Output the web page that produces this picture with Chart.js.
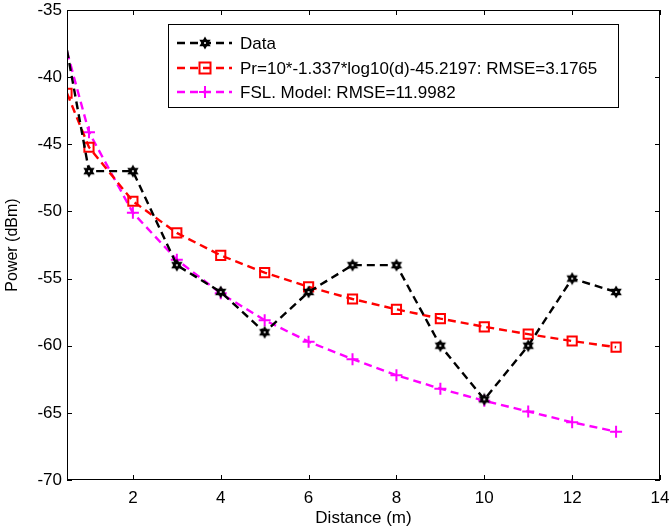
<!DOCTYPE html>
<html>
<head>
<meta charset="utf-8">
<script src="https://cdn.jsdelivr.net/npm/chart.js@4"></script>
<style>
  html, body { margin: 0; padding: 0; background: #fff; }
  #wrap { width: 670px; height: 530px; }
</style>
</head>
<body>
<div id="wrap"><canvas id="c" width="670" height="530"></canvas></div>
<script>
// ---- data ----
const distances = [0.5, 1, 2, 3, 4, 5, 6, 7, 8, 9, 10, 11, 12, 13];
const dataPower = [-38, -47, -47, -54, -56, -59, -56, -54, -54, -60, -64, -60, -55, -56];
const fitPower  = [-41.2, -45.22, -49.24, -51.6, -53.27, -54.56, -55.62, -56.52, -57.29, -57.98, -58.59, -59.14, -59.65, -60.11];
const fslPower  = [-38.1, -44.1, -50.1, -53.6, -56.1, -58.1, -59.7, -61.0, -62.2, -63.2, -64.1, -64.9, -65.7, -66.4];
const seriesLabels = [
  'Data',
  'Pr=10*-1.337*log10(d)-45.2197: RMSE=3.1765',
  'FSL. Model: RMSE=11.9982'
];
const xTicks = [2, 4, 6, 8, 10, 12, 14];
const yTicks = [-70, -65, -60, -55, -50, -45, -40, -35];

// ---- styles ----
const FONT = 'Liberation Sans, Arial, sans-serif';
function hexagram(size) {
  const c = document.createElement('canvas');
  c.width = size; c.height = size;
  const g = c.getContext('2d');
  const cx = size / 2, cy = size / 2, r = size / 2 - 0.5;
  g.fillStyle = '#000';
  for (const off of [-Math.PI / 2, Math.PI / 2]) {
    g.beginPath();
    for (let i = 0; i < 3; i++) {
      const a = off + i * 2 * Math.PI / 3;
      const px = cx + r * Math.cos(a), py = cy + r * Math.sin(a);
      if (i === 0) g.moveTo(px, py); else g.lineTo(px, py);
    }
    g.closePath();
    g.fill();
  }
  g.fillStyle = '#fff';
  g.beginPath(); g.arc(cx, cy, 1, 0, Math.PI * 2); g.fill();
  return c;
}
const hexImg = hexagram(14);
const hideFirst = (ctx) => ctx.dataIndex === 0 ? 0 : 6;

const ds = [
  {
    label: seriesLabels[0],
    data: distances.map((d, i) => ({ x: d, y: dataPower[i] })),
    borderColor: '#000', backgroundColor: '#000', borderWidth: 2.4,
    borderDash: [8, 5], pointStyle: hexImg, pointRadius: hideFirst,
    legendMarker: 'hex'
  },
  {
    label: seriesLabels[1],
    data: distances.map((d, i) => ({ x: d, y: fitPower[i] })),
    borderColor: '#ff0000', backgroundColor: 'rgba(0,0,0,0)', borderWidth: 2.4,
    borderDash: [8, 5], pointStyle: 'rect', pointRadius: 6.5, pointBorderWidth: 2,
    legendMarker: 'rect'
  },
  {
    label: seriesLabels[2],
    data: distances.map((d, i) => ({ x: d, y: fslPower[i] })),
    borderColor: '#ff00ff', backgroundColor: '#ff00ff', borderWidth: 2.4,
    borderDash: [8, 5], pointStyle: 'cross', pointRadius: hideFirst, pointBorderWidth: 2,
    legendMarker: 'cross'
  }
];

const framePlugin = {
  id: 'frame',
  afterDraw(chart) {
    const { ctx, chartArea: a, scales } = chart;
    ctx.save();
    ctx.strokeStyle = '#000';
    ctx.lineWidth = 1;
    ctx.setLineDash([]);
    ctx.strokeRect(a.left + 0.5, a.top + 0.5, a.right - a.left - 1, a.bottom - a.top - 1);
    const tl = 5;
    ctx.beginPath();
    for (const t of xTicks) {
      const x = Math.round(scales.x.getPixelForValue(t)) + 0.5;
      ctx.moveTo(x, a.bottom); ctx.lineTo(x, a.bottom - tl);
      ctx.moveTo(x, a.top); ctx.lineTo(x, a.top + tl);
    }
    for (const t of yTicks) {
      const y = Math.round(scales.y.getPixelForValue(t)) + 0.5;
      ctx.moveTo(a.left, y); ctx.lineTo(a.left + tl, y);
      ctx.moveTo(a.right, y); ctx.lineTo(a.right - tl, y);
    }
    ctx.stroke();

    // legend box
    const bx = 168, by = 24, bw = 450, bh = 83;
    ctx.fillStyle = '#fff';
    ctx.fillRect(bx, by, bw, bh);
    ctx.strokeRect(bx + 0.5, by + 0.5, bw, bh);
    const rows = [43, 68, 92];
    chart.data.datasets.forEach((d, i) => {
      const y = rows[i];
      ctx.strokeStyle = d.borderColor;
      ctx.lineWidth = 2.4;
      ctx.setLineDash([8, 5]);
      ctx.beginPath(); ctx.moveTo(177, y); ctx.lineTo(232, y); ctx.stroke();
      ctx.setLineDash([]);
      const mx = 205;
      if (d.legendMarker === 'hex') {
        ctx.drawImage(hexImg, mx - 7, y - 7);
      } else if (d.legendMarker === 'rect') {
        ctx.lineWidth = 2;
        ctx.strokeRect(mx - 5.5, y - 5.5, 11, 11);
      } else {
        ctx.lineWidth = 2;
        ctx.beginPath();
        ctx.moveTo(mx - 6, y); ctx.lineTo(mx + 6, y);
        ctx.moveTo(mx, y - 6); ctx.lineTo(mx, y + 6);
        ctx.stroke();
      }
      ctx.fillStyle = '#000';
      ctx.font = '17px ' + FONT;
      ctx.textBaseline = 'middle';
      ctx.textAlign = 'left';
      ctx.fillText(d.label, 240, y + 1);
    });
    ctx.restore();
  }
};

new Chart(document.getElementById('c'), {
  type: 'line',
  data: { datasets: ds },
  options: {
    responsive: false,
    animation: false,
    events: [],
    layout: { padding: { top: 10, right: 10, left: 0, bottom: 0 } },
    plugins: { legend: { display: false }, tooltip: { enabled: false } },
    scales: {
      x: {
        type: 'linear', min: 0.5, max: 14,
        afterBuildTicks: (s) => { s.ticks = xTicks.map(v => ({ value: v })); },
        afterFit: (s) => { s.height = 50; s.paddingRight = 0; s.paddingLeft = 0; },
        grid: { display: false, drawTicks: false },
        border: { display: false },
        ticks: { color: '#000', font: { family: FONT, size: 17 }, padding: 8, maxRotation: 0 },
        title: { display: true, text: 'Distance (m)', color: '#000', font: { family: FONT, size: 17 }, padding: { top: 0, bottom: 1 } }
      },
      y: {
        type: 'linear', min: -70, max: -35,
        afterBuildTicks: (s) => { s.ticks = yTicks.map(v => ({ value: v })); },
        afterFit: (s) => { s.width = 67; s.paddingTop = 0; s.paddingBottom = 0; },
        grid: { display: false, drawTicks: false },
        border: { display: false },
        ticks: { color: '#000', font: { family: FONT, size: 17 }, padding: 5 },
        title: { display: true, text: 'Power (dBm)', color: '#000', font: { family: FONT, size: 16 }, padding: { top: 3, bottom: 0 } }
      }
    }
  },
  plugins: [framePlugin]
});
</script>
</body>
</html>
